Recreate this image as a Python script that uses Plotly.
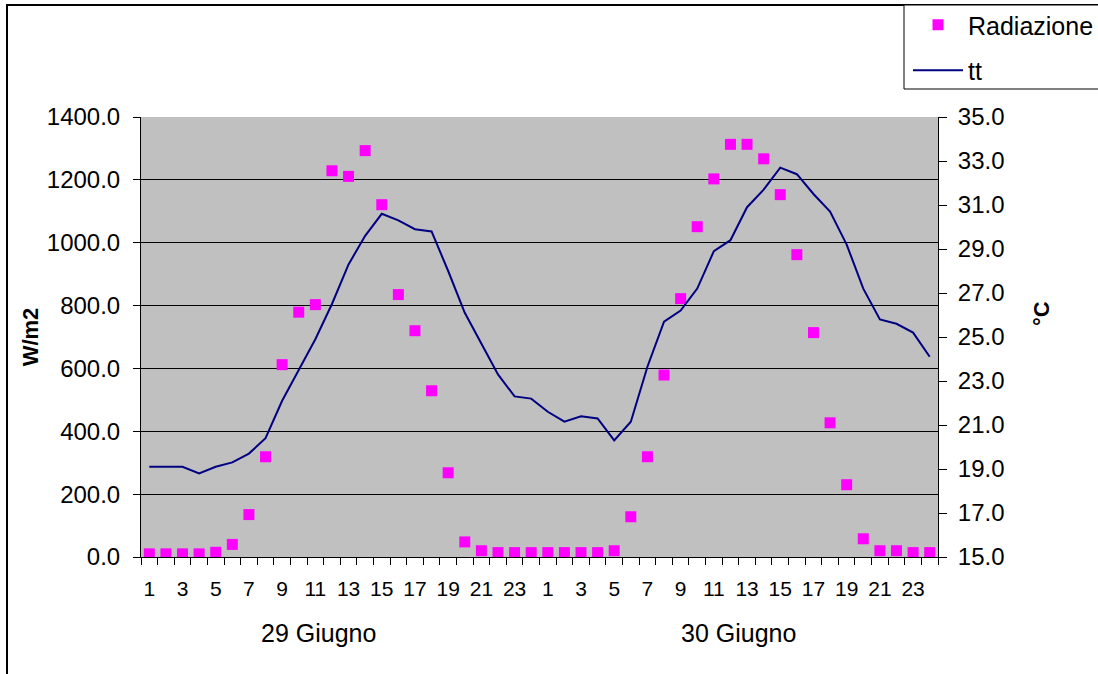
import plotly.graph_objects as go

# ---- data ----
ore = [str(h) for h in range(1, 25)] * 2
giorni = ["29 Giugno", "30 Giugno"]
radiazione = [10, 10, 10, 10, 15, 40, 135, 319, 612, 779, 803, 1229, 1211, 1293, 1121, 835,
              720, 529, 268, 48, 20, 14, 14, 14,
              14, 14, 14, 14, 20, 128, 319, 579, 822, 1051, 1203, 1313, 1313, 1267, 1153, 962,
              714, 427, 230, 58, 20, 20, 14, 14]
tt = [19.1, 19.1, 19.1, 18.8, 19.1, 19.3, 19.7, 20.4, 22.1, 23.5, 24.9, 26.5, 28.3, 29.6, 30.6, 30.3,
      29.9, 29.8, 28.0, 26.1, 24.7, 23.3, 22.3, 22.2,
      21.6, 21.15, 21.4, 21.3, 20.3, 21.15, 23.65, 25.7, 26.2, 27.2, 28.9, 29.4, 30.9, 31.7, 32.7, 32.4,
      31.5, 30.7, 29.2, 27.2, 25.8, 25.6, 25.2, 24.1]

idx = list(range(len(ore)))

W, H = 1098, 674
L, R, T, B = 141, 938, 117, 557
def px(x):
    return (x - L) / (R - L)
def py(y):
    return (B - y) / (B - T)

FONT = "Liberation Sans, Arial, sans-serif"

fig = go.Figure()
fig.add_trace(go.Scatter(
    x=idx, y=radiazione, mode="markers", name="Radiazione",
    marker=dict(symbol="square", size=11, color="#FF00FF", line=dict(width=0)),
    legendgroup="a",
))
fig.add_trace(go.Scatter(
    x=idx, y=tt, mode="lines", name="tt", yaxis="y2",
    line=dict(color="#000080", width=2),
    legendgroup="b",
))

fig.update_layout(
    width=W, height=H,
    margin=dict(l=L, r=W - R, t=T, b=H - B, autoexpand=False),
    paper_bgcolor="white",
    plot_bgcolor="#C0C0C0",
    font=dict(family=FONT, size=22, color="black"),
    showlegend=True,
    legend=dict(
        x=px(908), y=py(2), xanchor="left", yanchor="top",
        bgcolor="rgba(0,0,0,0)", borderwidth=0,
        font=dict(size=25, family=FONT),
        itemwidth=50, tracegroupgap=10, traceorder="grouped",
    ),
    xaxis=dict(
        range=[-0.5, len(ore) - 0.5],
        tickmode="array", tickvals=idx[::2], ticktext=ore[::2],
        ticks="outside", ticklen=13, tickcolor="rgba(0,0,0,0)",
        tickfont=dict(size=21),
        showgrid=False, zeroline=False,
        showline=True, linecolor="black", linewidth=1,
        minor=dict(tickmode="array", tickvals=[i - 0.5 for i in range(len(ore) + 1)],
                   ticks="outside", ticklen=7, tickcolor="black", showgrid=False),
    ),
    yaxis=dict(
        range=[0, 1400], tickmode="linear", tick0=0, dtick=200, tickformat=".1f",
        ticks="outside", ticklen=7, tickcolor="black", ticklabelstandoff=8,
        tickfont=dict(size=24),
        showgrid=True, gridcolor="black", gridwidth=1,
        zeroline=False, showline=True, linecolor="black", linewidth=1,
        title=dict(text="<b>W/m2</b>", font=dict(size=22), standoff=2),
    ),
    yaxis2=dict(
        range=[15, 35], tickmode="linear", tick0=15, dtick=2, tickformat=".1f",
        overlaying="y", side="right",
        ticks="outside", ticklen=8, tickcolor="black", ticklabelstandoff=6,
        tickfont=dict(size=24),
        showgrid=False, zeroline=False, showline=True, linecolor="black", linewidth=1,
    ),
)

# right axis title (placed as in the reference, slightly above centre)
fig.add_annotation(text="<b>°C</b>", x=px(1041), y=py(314), xref="paper", yref="paper",
                   showarrow=False, textangle=-90, font=dict(size=22, family=FONT),
                   xanchor="center", yanchor="middle")

# day labels
for g, cx in zip(giorni, [318, 738]):
    fig.add_annotation(text=g, x=px(cx), y=py(633), xref="paper", yref="paper",
                       showarrow=False, font=dict(size=25, family=FONT),
                       xanchor="center", yanchor="middle")

# chart border
fig.add_shape(type="rect", xref="paper", yref="paper",
              x0=px(7), y0=py(5), x1=px(1110), y1=py(690),
              line=dict(color="black", width=2), fillcolor="rgba(0,0,0,0)", layer="above")
# legend box
fig.add_shape(type="rect", xref="paper", yref="paper",
              x0=px(904), y0=py(5), x1=px(1110), y1=py(89),
              line=dict(color="black", width=1), fillcolor="white", layer="above")

fig.write_html("out.html", config={"displayModeBar": False},
               post_script="document.body.style.margin='0px';document.body.style.overflow='hidden';")
